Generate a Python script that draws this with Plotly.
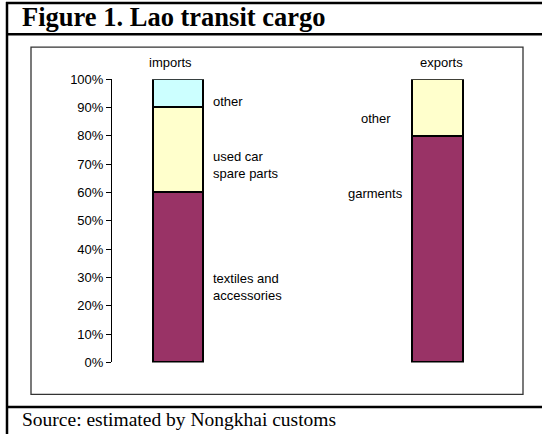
import plotly.graph_objects as go

# ---- data ----
categories = ["imports", "exports"]
bottom_share = [60, 80]      # textiles and accessories / garments
middle_share = [30, 20]      # used car spare parts / other
top_share = [10, None]       # other (imports only)
imports_labels = ["textiles and<br>accessories", "used car<br>spare parts", "other"]
exports_labels = ["garments", "other"]
tick_values = [0, 10, 20, 30, 40, 50, 60, 70, 80, 90, 100]
tick_labels = ["0%", "10%", "20%", "30%", "40%", "50%", "60%", "70%", "80%", "90%", "100%"]
title_text = "<b>Figure 1. Lao transit cargo</b>"
source_text = "Source: estimated by Nongkhai customs"

W, H = 542, 452
PLUM, YELLOW, CYAN = "#993366", "#FFFFCC", "#CCFFFF"
BAR_W = 0.196
SCALE, OFF = 0.966, 0.11   # vertical correction of the capture


def px(x):
    return x / W


def py(y):
    return 1 - ((y + OFF) / SCALE) / H


fig = go.Figure()
for vals, col in [(bottom_share, PLUM), (middle_share, YELLOW), (top_share, CYAN)]:
    fig.add_trace(go.Bar(x=categories, y=vals, width=BAR_W,
                         marker=dict(color=col, line=dict(color="black", width=2)),
                         showlegend=False, hoverinfo="skip"))

# pixel design of the plot area
ax_left, ax_right = 112, 522
c0, c1 = 178, 437.5
unit = c1 - c0
xr = [-(c0 - ax_left) / unit, 1 + (ax_right - c1) / unit]

fig.update_layout(
    width=W, height=H, margin=dict(l=0, r=0, t=0, b=0), autosize=False,
    paper_bgcolor="white", plot_bgcolor="white",
    barmode="stack", bargap=0,
    font=dict(family="Liberation Sans, Arial, sans-serif", size=13, color="black"),
    xaxis=dict(domain=[px(ax_left), px(ax_right)], range=xr, showticklabels=False,
               showline=False, showgrid=False, zeroline=False, ticks=""),
    yaxis=dict(domain=[py(362), py(79)], range=[0, 100], tickvals=tick_values,
               ticktext=tick_labels, ticks="outside", ticklen=5, tickcolor="black",
               showline=True, linecolor="black", linewidth=1, showgrid=False,
               zeroline=False, tickfont=dict(size=13)),
)

shapes = []
lw = 2.5
# outer frame lines
shapes.append(dict(type="line", xref="paper", yref="paper", x0=px(6), x1=1, y0=py(3), y1=py(3),
                   line=dict(color="black", width=lw)))
shapes.append(dict(type="line", xref="paper", yref="paper", x0=px(6), x1=1, y0=py(34), y1=py(34),
                   line=dict(color="black", width=lw)))
shapes.append(dict(type="line", xref="paper", yref="paper", x0=px(6), x1=1, y0=py(406.5), y1=py(406.5),
                   line=dict(color="black", width=lw)))
shapes.append(dict(type="line", xref="paper", yref="paper", x0=px(7), x1=px(7), y0=py(2), y1=0,
                   line=dict(color="black", width=lw)))
# inner chart box
shapes.append(dict(type="rect", xref="paper", yref="paper", x0=px(31), x1=px(523), y0=py(394), y1=py(47),
                   line=dict(color="#333333", width=1.3), layer="below"))
fig.update_layout(shapes=shapes)

ann = []
ann.append(dict(text=title_text, xref="paper", yref="paper", x=px(20), y=py(17),
                xanchor="left", yanchor="middle", showarrow=False,
                font=dict(family="Liberation Serif, Times New Roman, serif", size=26.5, color="black")))
ann.append(dict(text=source_text, xref="paper", yref="paper", x=px(20), y=py(419),
                xanchor="left", yanchor="middle", showarrow=False,
                font=dict(family="Liberation Serif, Times New Roman, serif", size=19.5, color="black")))
# category labels above bars
ann.append(dict(text=categories[0], x=categories[0], y=py(62), xref="x", yref="paper", xshift=-8,
                showarrow=False, xanchor="center", yanchor="middle"))
ann.append(dict(text=categories[1], x=categories[1], y=py(62), xref="x", yref="paper", xshift=4,
                showarrow=False, xanchor="center", yanchor="middle"))
# imports segment labels (to the right of the bar)
imp_y = [26.7, 69.8, 92.2]
for lab, yv in zip(imports_labels, imp_y):
    ann.append(dict(text=lab, x=0 + 0.1, y=yv, xref="x", yref="y", xshift=7, align="left",
                    showarrow=False, xanchor="left", yanchor="middle"))
# exports segment labels (to the left of the bar)
exp_y = [59.7, 86.2]
for lab, yv in zip(exports_labels, exp_y):
    ann.append(dict(text=lab, x=1 - 0.1, y=yv, xref="x", yref="y", xshift=-36,
                    showarrow=False, xanchor="center", yanchor="middle"))
fig.update_layout(annotations=ann)

fig.write_html("out.html", config={"responsive": False, "displayModeBar": False},
               post_script="document.body.style.margin='0';document.body.style.marginTop='-7px';"
                           "document.body.style.overflow='hidden';")
